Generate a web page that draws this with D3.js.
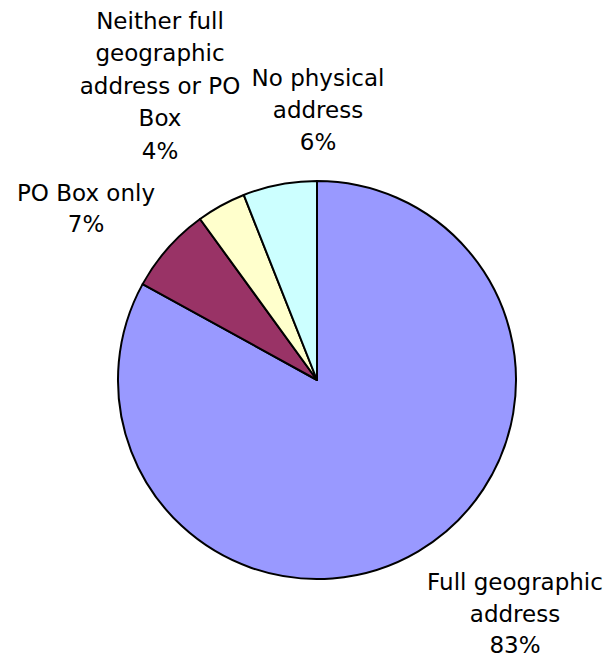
<!DOCTYPE html>
<html>
<head>
<meta charset="utf-8">
<script src="https://cdn.jsdelivr.net/npm/d3@7"></script>
<style>
  html, body { margin: 0; padding: 0; background: #fff; }
  svg { display: block; }
  text { font-family: "DejaVu Sans", Verdana, sans-serif; font-size: 23px; fill: #000; }
</style>
</head>
<body>
<svg id="chart" width="607" height="660"></svg>
<script>
// Address types, clockwise from 12 o'clock
const categories = ["Full geographic address", "PO Box only", "Neither full geographic address or PO Box", "No physical address"];
const values = [83, 7, 4, 6];
const colors = ["#9999FF", "#993366", "#FFFFCC", "#CCFFFF"];
// Wrapped label text for each slice
const labelLines = [
  ["Full geographic", "address"],
  ["PO Box only"],
  ["Neither full", "geographic", "address or PO", "Box"],
  ["No physical", "address"]
];

// Label block placement (centre x, first baseline y, line step)
const labelAnchors = [[515, 590, 31.5], [86, 201, 31], [160, 28.5, 32.5], [318, 86, 32]];

const svg = d3.select("#chart");
const cx = 317, cy = 380, radius = 199;

const pie = d3.pie().sort(null).value(d => d)(values);
const arc = d3.arc().innerRadius(0).outerRadius(radius);

const g = svg.append("g").attr("transform", `translate(${cx},${cy})`);
g.selectAll("path")
  .data(pie)
  .join("path")
  .attr("d", arc)
  .attr("fill", (d, i) => colors[i])
  .attr("stroke", "#000")
  .attr("stroke-width", 2)
  .attr("stroke-linejoin", "round");

const total = d3.sum(values);
const fmt = v => Math.round(v / total * 100) + "%";

const labels = svg.selectAll("text.label")
  .data(pie)
  .join("text")
  .attr("class", "label")
  .attr("text-anchor", "middle")
  .attr("x", (d, i) => labelAnchors[i][0])
  .attr("y", (d, i) => labelAnchors[i][1]);

labels.each(function (d, i) {
  const t = d3.select(this);
  const [x, y0, step] = labelAnchors[i];
  const lines = labelLines[i].concat([fmt(d.value)]);
  lines.forEach((line, j) => {
    t.append("tspan")
      .attr("x", x)
      .attr("y", y0 + j * step)
      .text(line);
  });
});
</script>
</body>
</html>
